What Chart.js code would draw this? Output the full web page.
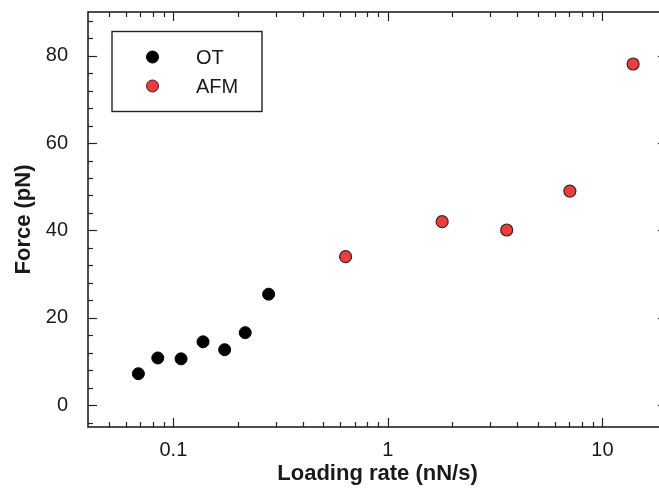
<!DOCTYPE html>
<html><head><meta charset="utf-8">
<script src="https://cdn.jsdelivr.net/npm/chart.js@4.4.1/dist/chart.umd.min.js"></script>
<style>html,body{margin:0;padding:0;background:#fff;overflow:hidden;width:659px;height:498px}</style>
</head><body>
<canvas id="c" width="667" height="498" style="display:block;width:667px;height:498px"></canvas>
<script>
// ---- data ----
const seriesNames = ['OT', 'AFM'];
const otRate  = [0.0687, 0.0846, 0.1086, 0.1375, 0.1734, 0.2163, 0.278];
const otForce = [7.2, 10.8, 10.6, 14.5, 12.7, 16.6, 25.4];
const afmRate  = [0.635, 1.79, 3.58, 7.05, 13.9];
const afmForce = [34.0, 42.0, 40.1, 49.0, 78.1];

const xTickValues = [0.05,0.06,0.07,0.08,0.09,0.1,0.2,0.3,0.4,0.5,0.6,0.7,0.8,0.9,1,2,3,4,5,6,7,8,9,10];
const xMajorTicks = [0.1, 1, 10];
const xTickLabels = ['0.1', '1', '10'];
const yTickValues = [-4,0,4,8,12,16,20,24,28,32,36,40,44,48,52,56,60,64,68,72,76,80,84,88];
const yMajorTicks = [0, 20, 40, 60, 80];

const FONT = '"Liberation Sans", Arial, Helvetica, sans-serif';
const RED = '#f23b3b';
const INK = '#1a1a1a';

const frameAndLegend = {
  id: 'frameAndLegend',
  afterDraw(chart) {
    const ctx = chart.ctx;
    const {left, right, top, bottom} = chart.chartArea;
    const xs = chart.scales.x, ys = chart.scales.y;
    ctx.save();
    ctx.strokeStyle = '#222';
    ctx.lineWidth = 1.2;
    const line = (a,b,c,d) => { ctx.beginPath(); ctx.moveTo(a,b); ctx.lineTo(c,d); ctx.stroke(); };
    xTickValues.forEach(v => {
      const px = Math.round(xs.getPixelForValue(v)) + 0.5;
      const len = xMajorTicks.includes(v) ? 9 : 5;
      line(px, bottom, px, bottom - len);
      line(px, top, px, top + len);
    });
    yTickValues.forEach(v => {
      const py = Math.round(ys.getPixelForValue(v)) + 0.5;
      const len = yMajorTicks.includes(v) ? 9 : 5;
      line(left, py, left + len, py);
      line(right, py, right - len, py);
    });
    ctx.lineWidth = 1.6;
    ctx.strokeRect(left, top, right - left, bottom - top);

    // legend box
    ctx.lineWidth = 1.4;
    ctx.strokeStyle = '#222';
    ctx.strokeRect(112, 31.5, 150, 80);
    chart.data.datasets.forEach((ds, i) => {
      const cy = 57 + i * 29;
      ctx.beginPath();
      ctx.arc(152.5, cy, 6, 0, Math.PI * 2);
      ctx.fillStyle = ds.backgroundColor;
      ctx.fill();
      ctx.lineWidth = 1;
      ctx.strokeStyle = ds.borderColor;
      ctx.stroke();
      ctx.fillStyle = INK;
      ctx.font = '20px ' + FONT;
      ctx.textAlign = 'left';
      ctx.textBaseline = 'middle';
      ctx.fillText(ds.label, 196, cy + 1);
    });
    ctx.restore();
  }
};

new Chart(document.getElementById('c'), {
  type: 'scatter',
  data: {
    datasets: [
      { label: seriesNames[0], data: otRate.map((x, i) => ({x, y: otForce[i]})),
        backgroundColor: '#000', borderColor: '#000', borderWidth: 1, pointRadius: 6, pointHoverRadius: 6 },
      { label: seriesNames[1], data: afmRate.map((x, i) => ({x, y: afmForce[i]})),
        backgroundColor: RED, borderColor: '#2a2a2a', borderWidth: 1.2, pointRadius: 6, pointHoverRadius: 6 }
    ]
  },
  options: {
    responsive: false,
    animation: false,
    devicePixelRatio: 1,
    events: [],
    layout: { autoPadding: false, padding: { top: 12, right: 0, left: 0, bottom: 0 } },
    plugins: { legend: { display: false }, tooltip: { enabled: false } },
    scales: {
      x: {
        type: 'logarithmic', min: 0.04, max: 20,
        afterBuildTicks: s => { s.ticks = xTickValues.map(v => ({value: v, major: xMajorTicks.includes(v)})); },
        afterFit: s => { s.height = 71; s.paddingLeft = 0; s.paddingRight = 0; s.paddingTop = 0; s.paddingBottom = 0; },
        grid: { display: false },
        border: { display: false },
        ticks: {
          autoSkip: false, maxRotation: 0, minRotation: 0, padding: 3,
          color: INK, font: { family: FONT, size: 20 },
          callback: v => { const k = xMajorTicks.indexOf(v); return k >= 0 ? xTickLabels[k] : ''; }
        },
        title: { display: true, text: 'Loading rate (nN/s)', color: INK,
          font: { family: FONT, size: 22, weight: 'bold' }, padding: { top: 0, bottom: 11 } }
      },
      y: {
        type: 'linear', min: -5, max: 90,
        afterBuildTicks: s => { s.ticks = yTickValues.map(v => ({value: v})); },
        afterFit: s => { s.width = 88; s.paddingLeft = 0; s.paddingRight = 0; s.paddingTop = 0; s.paddingBottom = 0; },
        grid: { display: false },
        border: { display: false },
        ticks: {
          autoSkip: false, padding: 12, color: INK, font: { family: FONT, size: 20 },
          callback: v => yMajorTicks.includes(v) ? String(v) : ''
        },
        title: { display: true, text: 'Force (pN)', color: INK,
          font: { family: FONT, size: 22, weight: 'bold' }, padding: { top: 11, bottom: 0 } }
      }
    }
  },
  plugins: [frameAndLegend]
});
</script>
</body></html>
